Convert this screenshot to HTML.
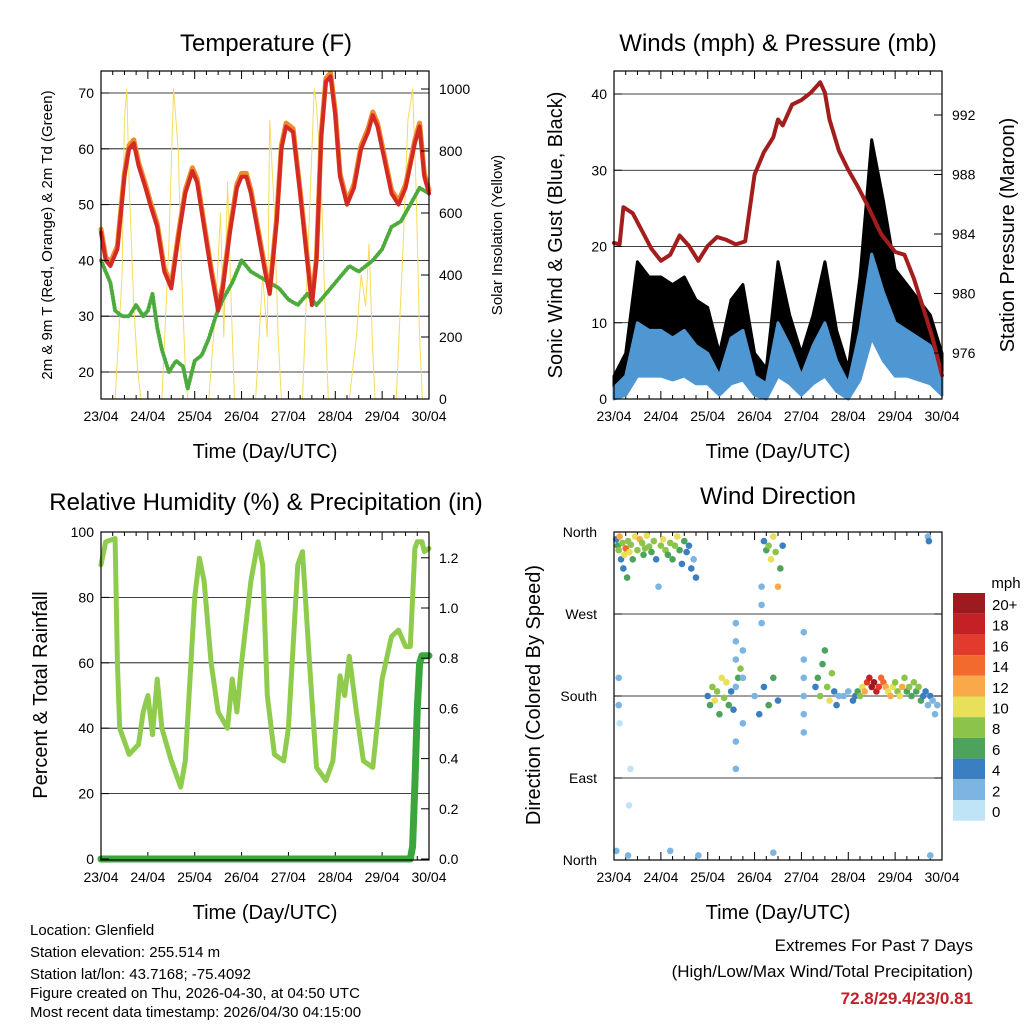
<!DOCTYPE html>
<html><head><meta charset="utf-8">
<style>
body{margin:0;background:#fff;font-family:"Liberation Sans",Arial,sans-serif;}
svg text{font-family:"Liberation Sans",Arial,sans-serif;}
</style></head>
<body>
<svg id="c" width="1024" height="1024" viewBox="0 0 1024 1024" xmlns="http://www.w3.org/2000/svg">
<rect width="1024" height="1024" fill="#fff"/>
<g id="layer"></g>
<text x="30" y="935" font-size="15">Location: Glenfield</text>
<text x="30" y="957" font-size="15">Station elevation: 255.514 m</text>
<text x="30" y="979" font-size="15">Station lat/lon: 43.7168; -75.4092</text>
<text x="30" y="998" font-size="15">Figure created on Thu, 2026-04-30, at 04:50 UTC</text>
<text x="30" y="1017" font-size="15">Most recent data timestamp: 2026/04/30 04:15:00</text>
<text x="973" y="951" font-size="17" text-anchor="end">Extremes For Past 7 Days</text>
<text x="973" y="977" font-size="17" text-anchor="end">(High/Low/Max Wind/Total Precipitation)</text>
<text x="973" y="1004" font-size="17" font-weight="bold" fill="#c0222a" text-anchor="end">72.8/29.4/23/0.81</text>
</svg>
<script>
// ---------- data ----------
const dayLabels=["23/04","24/04","25/04","26/04","27/04","28/04","29/04","30/04"];
const tempT=[0,0.1,0.2,0.35,0.5,0.6,0.7,0.8,0.95,1.05,1.2,1.35,1.5,1.65,1.8,1.95,2.05,2.2,2.35,2.5,2.6,2.75,2.9,3.0,3.1,3.2,3.35,3.5,3.6,3.75,3.85,3.95,4.1,4.25,4.4,4.5,4.6,4.7,4.8,4.9,5.0,5.1,5.25,5.4,5.55,5.7,5.8,5.9,6.05,6.2,6.35,6.5,6.6,6.7,6.8,6.9,7.0];
const tempV=[45,40,39,42,55,60,61,57,53,50,46,38,35,44,52,56,54,46,38,31,35,45,53,55,55,52,45,38,34,47,60,64,63,52,40,32,40,62,72,73,66,55,50,53,60,63,66,64,58,52,50,53,57,61,64,55,52];
const dewT=[0,0.1,0.2,0.3,0.45,0.6,0.75,0.9,1.0,1.1,1.2,1.3,1.45,1.6,1.75,1.85,2.0,2.15,2.3,2.45,2.6,2.8,3.0,3.2,3.4,3.6,3.8,4.0,4.2,4.4,4.6,4.8,5.0,5.3,5.5,5.8,6.0,6.2,6.4,6.6,6.8,7.0];
const dewV=[40,38,36,31,30,30,32,30,31,34,28,24,20,22,21,17,22,23,26,30,33,36,40,38,37,36,35,33,32,34,32,34,36,39,38,40,42,46,47,50,53,52];
const solarT=[0,0.12,0.3,0.45,0.5,0.55,0.6,0.7,0.78,0.85,1.3,1.45,1.55,1.65,1.72,1.8,1.85,2.3,2.45,2.55,2.62,2.7,2.78,2.85,3.3,3.45,3.55,3.6,3.7,3.78,3.85,4.3,4.45,4.55,4.6,4.7,4.78,4.85,5.3,5.45,5.55,5.65,5.72,5.8,5.85,6.3,6.45,6.55,6.65,6.72,6.8,6.86,7.0];
const solarV=[0,0,0,400,900,1000,700,300,100,0,0,500,1000,800,400,100,0,0,300,600,200,700,300,0,0,400,200,900,600,200,0,0,600,1000,950,700,300,0,0,200,400,300,500,150,0,0,500,900,1000,700,200,0,0];
const windT=[0,0.25,0.5,0.75,1.0,1.25,1.5,1.75,2.0,2.25,2.5,2.75,3.0,3.25,3.5,3.75,4.0,4.25,4.5,4.75,5.0,5.25,5.5,5.75,6.0,6.25,6.5,6.75,7.0];
const gustV=[3,6,18,16,16,15,16,13,12,6,13,15,6,4,18,11,6,11,18,9,4,16,34,26,17,15,13,11,6];
const speedV=[1.5,3,10,9,9,8,9,7,6,3,8,9,3,2,10,7,3,7,10,5,2,9,19,14,10,9,8,7,3];
const lowV=[0,0.5,3,3,3,2.5,3,2,2,0.5,2,2.5,0.5,0,3,2,0.5,2,3,1,0,2.5,8,5,3,3,2.5,2,0.5];
const presT=[0,0.12,0.2,0.4,0.6,0.8,1.0,1.2,1.4,1.6,1.8,2.0,2.2,2.4,2.6,2.8,3.0,3.2,3.4,3.5,3.6,3.8,4.0,4.2,4.4,4.5,4.6,4.8,5.0,5.2,5.4,5.7,6.0,6.2,6.4,6.6,6.8,7.0];
const presV=[983.4,983.3,985.8,985.4,984.2,983,982.2,982.6,983.9,983.2,982.2,983.2,983.8,983.6,983.3,983.5,988,989.5,990.5,991.7,991.3,992.7,993,993.5,994.2,993.5,991.7,989.6,988.3,987.2,986,984,982.8,982.6,981,979,977,974.5];
const rhT=[0,0.1,0.3,0.35,0.4,0.6,0.8,0.9,1.0,1.1,1.2,1.3,1.5,1.7,1.8,2.0,2.1,2.2,2.35,2.5,2.7,2.8,2.9,3.0,3.2,3.35,3.45,3.55,3.7,3.9,4.0,4.2,4.3,4.45,4.6,4.8,4.95,5.1,5.2,5.3,5.45,5.6,5.8,6.0,6.2,6.35,6.5,6.6,6.7,6.75,6.85,6.9,7.0];
const rhV=[90,97,98,60,40,32,35,45,50,38,55,40,30,22,30,80,92,85,60,45,40,55,45,60,85,97,90,50,32,30,40,90,94,60,28,24,30,56,50,62,45,30,28,55,68,70,65,65,95,97,97,94,95];
const rainT=[0,6.6,6.65,6.7,6.75,6.8,6.85,7.0];
const rainV=[0,0,0.05,0.3,0.6,0.78,0.81,0.81];
const dirT=[0.05,0.08,0.1,0.12,0.15,0.18,0.2,0.22,0.25,0.28,0.3,0.33,0.36,0.4,0.45,0.5,0.55,0.6,0.63,0.66,0.7,0.75,0.8,0.85,0.9,0.95,1.0,1.05,1.1,1.15,1.2,1.25,1.3,1.35,1.4,1.45,1.5,1.55,1.6,1.65,1.7,1.75,
2.0,2.05,2.1,2.15,2.2,2.25,2.3,2.35,2.4,2.45,2.5,2.55,2.6,2.65,2.7,2.6,2.6,2.6,2.6,2.6,2.75,2.75,2.75,
3.2,3.25,3.3,3.35,3.4,3.45,3.5,3.55,3.6,3.15,3.15,3.15,3.0,3.1,3.2,3.3,3.4,3.5,
4.05,4.05,4.05,4.05,4.05,4.05,4.3,4.35,4.4,4.45,4.5,4.55,4.6,4.65,4.7,4.75,4.8,4.9,5.0,
5.1,5.15,5.2,5.25,5.3,5.35,5.4,5.45,5.5,5.55,5.6,5.65,5.7,5.75,5.8,5.85,5.9,5.95,6.0,6.05,6.1,6.15,6.2,6.25,6.3,6.35,6.4,6.45,6.5,6.55,6.6,6.65,6.7,6.75,6.8,6.85,6.9,
0.05,0.3,1.2,1.8,3.4,0.35,0.32,6.7,6.72,6.75,0.1,0.1,0.12];
const dirD=[352,345,340,355,330,348,320,335,342,310,350,338,346,330,355,340,352,348,335,342,356,344,338,350,330,300,345,352,340,335,348,330,345,355,340,325,350,338,345,320,330,310,
180,170,190,175,185,160,200,178,195,170,185,165,190,200,210,220,240,260,130,100,150,200,230,
350,340,345,330,355,338,300,320,345,280,300,260,180,160,190,170,200,175,
250,220,200,180,160,140,190,200,180,215,230,190,175,205,185,170,180,180,185,
175,180,185,180,190,185,195,200,190,195,185,190,200,195,190,185,180,190,195,185,180,190,200,185,190,180,195,185,190,175,180,185,170,180,175,160,170,
10,5,10,5,8,100,60,355,350,5,200,170,150];
const dirS=[4,6,8,12,5,9,4,10,14,6,8,11,9,7,10,8,12,9,7,8,10,9,6,8,4,3,8,10,9,7,9,6,8,10,7,5,6,4,5,4,3,4,
4,6,8,10,9,7,10,8,11,6,5,4,3,6,8,2,2,2,2,2,2,2,2,
4,6,8,10,11,9,12,6,4,3,3,3,3,5,4,6,7,4,
3,3,3,3,3,3,4,6,8,7,6,9,10,8,5,4,3,3,3,
4,5,6,8,10,12,16,18,20,22,19,17,15,14,12,10,13,11,9,8,10,12,9,7,8,6,9,7,8,6,5,4,3,4,3,2,3,
2,2,3,2,2,1,1,3,4,2,3,2,1];
const legLabels=["20+","18","16","14","12","10","8","6","4","2","0"];
const legColors=["#9b1b1e","#c42127","#e23a2d","#f26a2e","#f9a94a","#e8df5a","#8cc34a","#4ea35c","#3c7fc0","#7cb5e1","#bfe3f7"];
// ---------- helpers ----------
const NS="http://www.w3.org/2000/svg";
const L=document.getElementById('layer');
function mk(tag,at,parent){const e=document.createElementNS(NS,tag);for(const k in at)e.setAttribute(k,at[k]);(parent||L).appendChild(e);return e;}
function txt(x,y,s,size,anchor,parent,rot){const e=mk('text',{x:x,y:y,'font-size':size,'text-anchor':anchor||'middle'},parent);if(rot)e.setAttribute('transform','rotate(-90 '+x+' '+y+')');e.textContent=s;return e;}
function line(pts,color,w,parent){let d='';pts.forEach((p,i)=>d+=(i?'L':'M')+p[0].toFixed(1)+','+p[1].toFixed(1));return mk('path',{d:d,fill:'none',stroke:color,'stroke-width':w,'stroke-linejoin':'round','stroke-linecap':'round'},parent);}
function band(top,bot,color,parent){let d='';top.forEach((p,i)=>d+=(i?'L':'M')+p[0].toFixed(1)+','+p[1].toFixed(1));bot.slice().reverse().forEach(p=>d+='L'+p[0].toFixed(1)+','+p[1].toFixed(1));d+='Z';return mk('path',{d:d,fill:color,stroke:color,'stroke-width':3,'stroke-linejoin':'round'},parent);}
function panel(x0,y0,name){const g=mk('g',{});
 const W=328,H=328;const sx=d=>x0+d/7*W;
 for(let d=0;d<=7;d++){const X=sx(d);mk('line',{x1:X,x2:X,y1:y0+H,y2:y0+H-8,stroke:'#000'},g);mk('line',{x1:X,x2:X,y1:y0,y2:y0+8,stroke:'#000'},g);
  const t=txt(X,y0+H+22,dayLabels[d],14,'middle',g);
  if(d<7)for(let q=1;q<4;q++){const Xm=sx(d+q/4);mk('line',{x1:Xm,x2:Xm,y1:y0+H,y2:y0+H-4,stroke:'#000'},g);mk('line',{x1:Xm,x2:Xm,y1:y0,y2:y0+4,stroke:'#000'},g);}}
 const xt=txt(x0+W/2,y0+H+59,'Time (Day/UTC)',20,'middle',g);
 return {g:g,sx:sx,x0:x0,y0:y0,W:W,H:H};}
function frame(p){mk('rect',{x:p.x0,y:p.y0,width:p.W,height:p.H,fill:'none',stroke:'#000','stroke-width':1.2},p.g);}
function yTicks(p,vals,fy,side,fmt){vals.forEach(v=>{const Y=fy(v);const X=side==='l'?p.x0:p.x0+p.W;const dx=side==='l'?8:-8;
 mk('line',{x1:X,x2:X+dx,y1:Y,y2:Y,stroke:'#000'},p.g);
 const t=txt(side==='l'?X-7:X+10,Y+5,fmt?fmt(v):String(v),14,side==='l'?'end':'start',p.g);});}
function grid(p,vals,fy){vals.forEach(v=>{const Y=fy(v);mk('line',{x1:p.x0,x2:p.x0+p.W,y1:Y,y2:Y,stroke:'#000','stroke-width':0.8},p.g);});}
function pts(T,V,sx,fy){return T.map((t,i)=>[sx(t),fy(V[i])]);}
// ---------- Panel 1: temperature ----------
{const p=panel(101,71,'temperature-panel');const fy=v=>372-(v-20)*5.58;const fs=v=>399-v*0.31;
 const t=txt(266,51,'Temperature (F)',24,'middle',p.g);
 grid(p,[20,30,40,50,60,70],fy);
 const s=line(pts(solarT,solarV,p.sx,fs),'#f6dc5a',1,p.g);
 const dw=line(pts(dewT,dewV,p.sx,fy),'#4daa3c',4,p.g);dw.setAttribute('stroke-dasharray','1 2.5');
 const o=line(pts(tempT,tempV.map(v=>v+0.6),p.sx,fy),'#f08a2a',5,p.g);
 const r=line(pts(tempT,tempV,p.sx,fy),'#d42a24',4,p.g);
 frame(p);yTicks(p,[20,30,40,50,60,70],fy,'l');yTicks(p,[0,200,400,600,800,1000],fs,'r');
 const a=txt(52,235,'2m & 9m T (Red, Orange) & 2m Td (Green)',15,'middle',p.g,true);
 const b=txt(502,235,'Solar Insolation (Yellow)',15,'middle',p.g,true);}
// ---------- Panel 2: winds ----------
{const p=panel(614,71,'winds-panel');const fy=v=>399-v*7.625;const fp=v=>353-(v-976)*14.875;
 const t=txt(778,51,'Winds (mph) & Pressure (mb)',24,'middle',p.g);
 grid(p,[10,20,30,40],fy);
 const g1=band(pts(windT,gustV,p.sx,fy),pts(windT,speedV,p.sx,fy),'#000',p.g);
 const s1=band(pts(windT,speedV,p.sx,fy),pts(windT,lowV,p.sx,fy),'#4f97d3',p.g);
 const pr=line(pts(presT,presV,p.sx,fp),'#a31d1d',4,p.g);
 frame(p);yTicks(p,[0,10,20,30,40],fy,'l');yTicks(p,[976,980,984,988,992],fp,'r');
 const a=txt(562,235,'Sonic Wind & Gust (Blue, Black)',20,'middle',p.g,true);
 const b=txt(1014,235,'Station Pressure (Maroon)',20,'middle',p.g,true);}
// ---------- Panel 3: RH ----------
{const p=panel(101,532,'humidity-panel');const fy=v=>859-v*3.27;const fr=v=>859-v*251;
 const t=txt(266,510,'Relative Humidity (%) & Precipitation (in)',24,'middle',p.g);
 grid(p,[20,40,60,80,100],fy);
 const h=line(pts(rhT,rhV,p.sx,fy),'#8fcc4e',5,p.g);
 const r=line(pts(rainT,rainV,p.sx,fr),'#3aa63c',7,p.g);
 frame(p);yTicks(p,[0,20,40,60,80,100],fy,'l');yTicks(p,[0,0.2,0.4,0.6,0.8,1.0,1.2],fr,'r',v=>v.toFixed(1));
 const a=txt(47,695,'Percent & Total Rainfall',20,'middle',p.g,true);}
// ---------- Panel 4: wind direction ----------
{const p=panel(614,532,'wind-direction-panel');const fy=d=>860-d/90*82;
 const t=txt(778,504,'Wind Direction',24,'middle',p.g);
 grid(p,[90,180,270],fy);
 const col=s=>legColors[10-Math.min(10,Math.floor(s/2))];
 dirT.forEach((tt,i)=>{const c=mk('circle',{cx:p.sx(tt),cy:fy(dirD[i]),r:3.3,fill:col(dirS[i])},p.g);});
 frame(p);
 [["North",360],["West",270],["South",180],["East",90],["North",0]].forEach(([n,d])=>{const Y=fy(d);mk('line',{x1:p.x0,x2:p.x0+8,y1:Y,y2:Y,stroke:'#000'},p.g);mk('line',{x1:p.x0+p.W,x2:p.x0+p.W-8,y1:Y,y2:Y,stroke:'#000'},p.g);const e=txt(p.x0-17,Y+5,n,14,'end',p.g);});
 const a=txt(540,695,'Direction (Colored By Speed)',20,'middle',p.g,true);
 const lg=mk('g',{},p.g);
 txt(1006,588,'mph',15,'middle',lg);
 legLabels.forEach((lb,i)=>{const Y=593+i*20.7;mk('rect',{x:953,y:Y,width:32,height:20.7,fill:legColors[i]},lg);const e=txt(992,Y+17,lb,15,'start',lg);});}
</script>
</body></html>
